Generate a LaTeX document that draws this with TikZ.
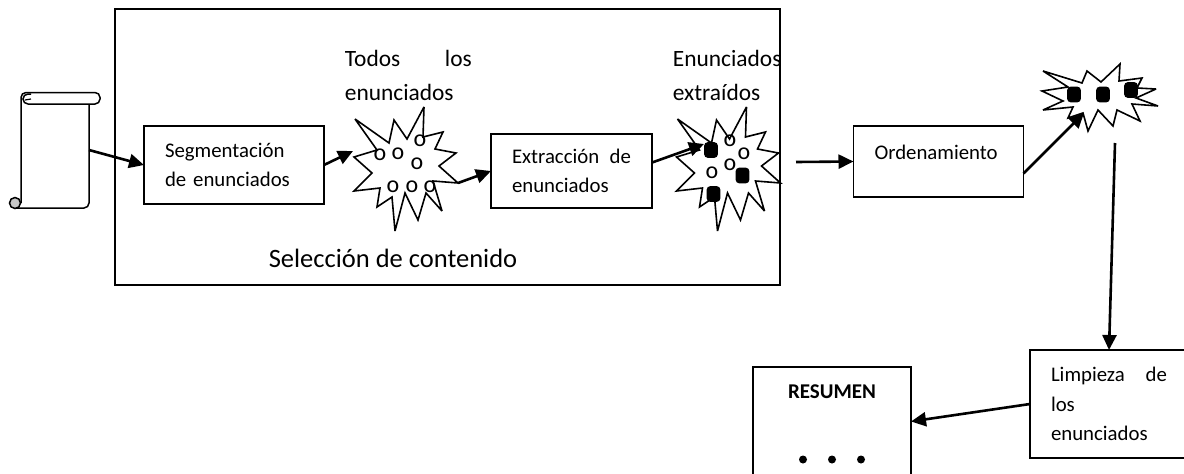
\documentclass[tikz,border=0pt]{standalone}
\usepackage{fontspec}
\setmainfont{Carlito}
\usetikzlibrary{arrows.meta}

\tikzset{
  box/.style={draw, rectangle, outer sep=0pt, inner xsep=21pt, align=left,
    font=\fontsize{20.8}{29.5}\selectfont},
  lbl/.style={inner sep=0pt, anchor=west, align=left,
    font=\fontsize{23.4}{34}\selectfont},
  flow/.style={-{Triangle[length=15pt,width=14pt]}, line width=2.6pt, shorten >=0pt},
  burst/.style={line width=1.6pt, line join=miter, miter limit=4},
  pebble/.style={inner sep=0pt, font=\fontsize{24}{24}\selectfont},
  blob/.style={fill=black, rounded corners=3pt},
}
\newcommand{\burstpath}{(355,119) -- (389,143) -- (394,120) -- (407,139) -- (424,107) -- (423,137)
  -- (443,132) -- (435,149) -- (456,153) -- (439,166) -- (458,183) -- (433,181) -- (442,211)
  -- (426,193) -- (418,220) -- (405,193) -- (395,231) -- (392,197) -- (377,207) -- (380,188)
  -- (354,191) -- (372,173) -- (354,157) -- (377,150) -- cycle}

\begin{document}
\begin{tikzpicture}[x=1pt, y=-1pt, line width=1.8pt]
\path[use as bounding box, clip] (0,0) rectangle (1184,474);

% scroll
\node[inner sep=0pt, outer sep=0pt, minimum width=68pt, minimum height=116pt] (scroll) at (55,150) {};
\draw[line width=1.5pt, rounded corners=5pt] (15,208) -- (89,208) -- (89,104);
\draw[line width=1.5pt, rounded corners=5pt] (21,203) -- (21,92.5) -- (100,92.5) -- (100,104) -- (28,104);
\draw[line width=1.5pt] (28,104) arc[start angle=270, end angle=90, radius=5pt] -- (31,94);
\draw[line width=1.5pt, fill=gray!45] (15,203) circle (5.5pt);
\draw[line width=1.2pt] (25,100) -- (31,99);

% boxes
\node[box, minimum width=665pt, minimum height=276pt] (main) at (447.5,147) {};
\node[box, text width=138pt, minimum height=78pt] (seg) at (234,165) {Segmentación\\de enunciados};
\node[box, text width=119pt, minimum height=74pt] (extr) at (571.5,171) {Extracción\hfill de\\enunciados};
\node[box, text width=128pt, minimum height=71pt] (ord) at (938.5,161.5) {Ordenamiento\\[-11pt]~};
\node[box, text width=116pt, minimum height=108pt] (limp) at (1109,404) {Limpieza\hfill de\\los\\enunciados};
\node[box, minimum width=158pt, minimum height=120pt] (res) at (832,427) {};

% labels
\node[lbl, text width=127pt] (todos) at (344,75) {Todos\hfill los\\enunciados};
\node[lbl] (extraidos) at (672,75) {Enunciados\\extraídos};
\node[inner sep=0pt, font=\fontsize{26.5}{30}\selectfont] (titulo) at (393,258) {Selección de contenido};
\node[inner sep=0pt, font=\bfseries\fontsize{21}{24}\selectfont] (resumen) at (832,392) {RESUMEN};

% stars
\draw[burst] \burstpath;
\draw[burst, shift={(322.5,0)}] \burstpath;
\draw[burst] (1043,71) -- (1082,83) -- (1087,71) -- (1101,82) -- (1120,64) -- (1119,81) -- (1142,78)
  -- (1137,88) -- (1156,89) -- (1136,98) -- (1158,106) -- (1132,104) -- (1140,121) -- (1117,110)
  -- (1113,126) -- (1098,110) -- (1088,131) -- (1083,113) -- (1068,118) -- (1073,107) -- (1043,110)
  -- (1063,101) -- (1042,91) -- (1068,87) -- cycle;

% sentences
\foreach \px/\py [count=\i] in {380/155, 398/154, 420/141, 417/164, 393/187, 412/187, 430/187}
  \node[pebble] (a\i) at (\px,\py) {o};
\foreach \px/\py [count=\i] in {730/141, 744/154, 730/165, 712/173}
  \node[pebble] (b\i) at (\px,\py) {o};
\foreach \px/\py in {711/150, 742.5/175.5, 713.5/194, 1074/94.5, 1103/94.5, 1131/90}
  \draw[blob] (\px-6,\py-7) rectangle (\px+6,\py+7);
\foreach \px in {803, 832, 861}
  \fill (\px,459.5) circle (4pt);

% connection points on the stars
\coordinate (starAin) at (353,151);
\coordinate (starAout) at (458,183);
\coordinate (starBin) at (704,144);
\coordinate (starBout) at (796,162);
\coordinate (starCin) at (1084,113);
\coordinate (starCout) at (1115,143);

\path[flow] (scroll.east) edge (seg.west)
      (seg.east) edge (starAin)
      (starAout) edge (extr.west)
      (extr.6) edge (starBin)
      (starBout) edge (ord.west)
      (ord.-8) edge (starCin)
      (starCout) edge (limp.north)
      (limp.west) edge (res.4);
\end{tikzpicture}
\end{document}
